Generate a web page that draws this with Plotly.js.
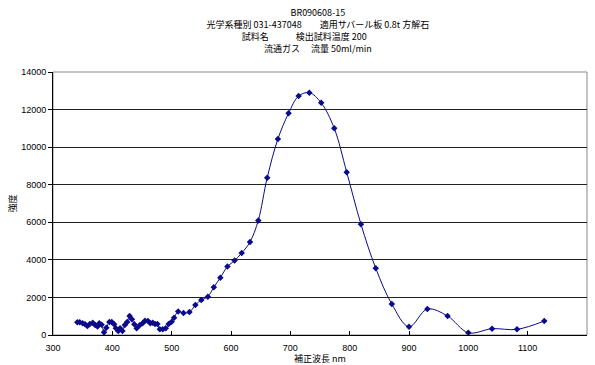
<!DOCTYPE html>
<html>
<head>
<meta charset="utf-8">
<script src="https://cdn.plot.ly/plotly-3.0.1.min.js"></script>
<style>html,body{margin:0;padding:0;background:#fff;}#chart{width:595px;height:365px;}</style>
</head>
<body>
<div id="chart"></div>
<script>
const wavelength = [341,345,350,354,358,362,367,371,375,378,382,386,390,395,399,403,406,410,413,417,421,425,429,433,437,441,446,451,455,460,464,468,472,476,480,485,490,495,500,504,511,520,530,540,550,561,571,582,594,606,618,632,646,661,679,697,714,732,752,774,795,819,844,871,900,931,965,1000,1040,1082,1128];
const intensity = [675,675,620,570,480,585,655,530,450,620,550,140,390,690,690,570,355,210,355,210,530,690,1010,835,570,355,515,620,760,745,620,655,585,585,300,300,355,585,710,920,1250,1170,1220,1600,1860,2040,2540,3050,3640,3960,4360,4950,6100,8370,10430,11800,12720,12900,12360,11000,8670,5900,3550,1650,440,1380,1010,120,335,300,745];
const xTicks = [300,400,500,600,700,800,900,1000,1100,1200];
const yTicks = [0,2000,4000,6000,8000,10000,12000,14000];
const titleLines = ["BR090608-15", "光学系種別 031-437048　　適用サバール板 0.8t 方解石", "試料名　　　検出試料温度 200　　　", "流通ガス　 流量 50ml/min　　　"];
const xTitle = "補正波長 nm";
const yTitle = "強度";

const FONT = "Liberation Sans, Noto Sans CJK JP, sans-serif";
const JFONT = "Noto Sans CJK JP, sans-serif";
const trace = {
  x: wavelength, y: intensity, type: 'scatter', mode: 'lines+markers',
  line: {color: '#0a0a8a', width: 1, shape: 'spline', smoothing: 1},
  marker: {symbol: 'diamond', size: 5, color: '#0a0a8a'},
  hoverinfo: 'skip'
};
const layout = {
  width: 595, height: 365,
  margin: {l: 53, r: 8, t: 72, b: 30},
  paper_bgcolor: '#fff', plot_bgcolor: '#fff',
  showlegend: false,
  font: {family: FONT, size: 9, color: '#000'},
  title: {text: titleLines.join('<br>'), font: {family: JFONT, size: 9, color: '#000'},
          xref: 'paper', x: 0.496, xanchor: 'center', yref: 'container', y: 0.955, yanchor: 'top'},
  xaxis: {
    range: [300, 1200], tickvals: xTicks, ticktext: xTicks.map(String),
    showgrid: false, zeroline: false, showline: true, linecolor: '#000', linewidth: 1,
    ticks: 'inside', ticklen: 4, tickcolor: '#000',
    ticklabelstandoff: 4,
    tickfont: {family: FONT, size: 9, color: '#000'},
    title: {text: xTitle, font: {family: JFONT, size: 9, color: '#000'}, standoff: 0}
  },
  yaxis: {
    range: [0, 14000], tickvals: yTicks, ticktext: yTicks.map(String),
    showgrid: true, gridcolor: '#222', gridwidth: 1, zeroline: false,
    showline: true, linecolor: '#000', linewidth: 1,
    ticks: 'outside', ticklen: 4, tickcolor: '#000',
    tickfont: {family: FONT, size: 9, color: '#000'},
    title: {text: yTitle, font: {family: JFONT, size: 9, color: '#000'}, standoff: 3}
  },
  shapes: [{type: 'rect', xref: 'paper', yref: 'paper', x0: 0, x1: 1, y0: 0, y1: 1, line: {color: '#888', width: 1}, layer: 'below'}]
};
Plotly.newPlot('chart', [trace], layout, {displayModeBar: false, staticPlot: true});
</script>
</body>
</html>
